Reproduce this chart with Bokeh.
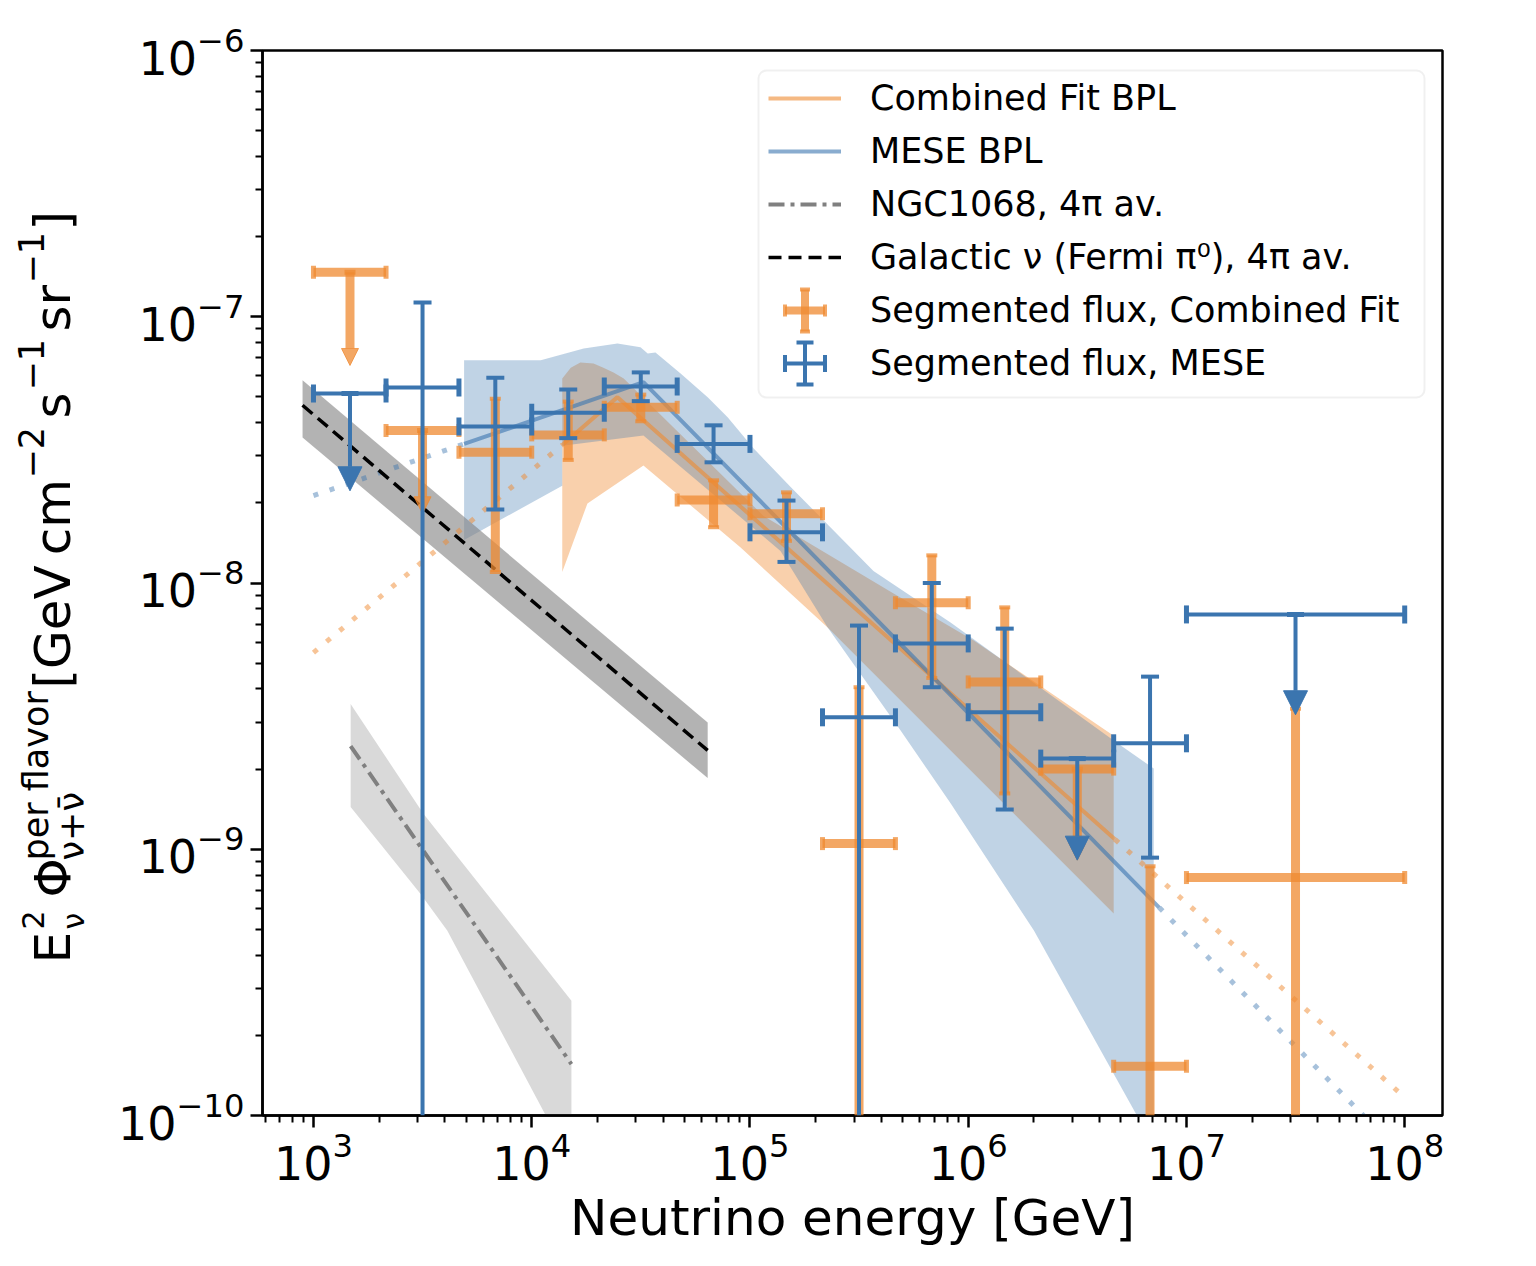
from math import pi
from bokeh.plotting import figure
from bokeh.layouts import row
from bokeh.models import (ColumnDataSource, Whisker, TeeHead, Arrow, NormalHead, BoxAnnotation,
                          Legend, LegendItem, Label, FixedTicker, Range1d)
from bokeh.embed import file_html
from bokeh.resources import INLINE

ORANGE = "#ef8a30"
BLUE = "#3b75af"
FONT = "DejaVu Sans"

# ---------------- data ----------------
x_ticks = [1e3, 1e4, 1e5, 1e6, 1e7, 1e8]
y_ticks = [1e-10, 1e-9, 1e-8, 1e-7, 1e-6]
X_RANGE = (584, 1.49e8)
Y_RANGE = (1e-10, 1e-6)

# energy segments [GeV]
bin_lo = [1e3, 2.15e3, 4.64e3, 1e4, 2.15e4, 4.64e4, 1e5, 2.15e5, 4.64e5, 1e6, 2.15e6, 4.64e6, 1e7]
bin_hi = [2.15e3, 4.64e3, 1e4, 2.15e4, 4.64e4, 1e5, 2.15e5, 4.64e5, 1e6, 2.15e6, 4.64e6, 1e7, 1e8]
bin_mid = [1.47e3, 3.16e3, 6.81e3, 1.47e4, 3.16e4, 6.81e4, 1.47e5, 3.16e5, 6.81e5, 1.47e6, 3.16e6, 6.81e6, 3.16e7]

# segmented flux, MESE  (lower 0 = reaches below the axis, None = upper limit)
mese_flux = [5.15e-8, 5.42e-8, 3.87e-8, 4.36e-8, 5.47e-8, 3.33e-8, 1.55e-8, 3.13e-9, 5.93e-9, 3.27e-9, 2.19e-9, 2.50e-9, 7.62e-9]
mese_up = [None, 1.13e-7, 5.90e-8, 5.33e-8, 6.18e-8, 3.91e-8, 2.04e-8, 6.92e-9, 1.00e-8, 6.74e-9, None, 4.45e-9, None]
mese_lo = [None, 0, 1.89e-8, 3.50e-8, 4.82e-8, 2.84e-8, 1.20e-8, 0, 4.06e-9, 1.41e-9, None, 9.3e-10, None]
mese_arrow = [2.22e-8, None, None, None, None, None, None, None, None, None, 9.1e-10, None, 3.2e-9]

# segmented flux, Combined Fit
comb_flux = [1.47e-7, 3.74e-8, 3.10e-8, 3.60e-8, 4.57e-8, 2.05e-8, 1.82e-8, 1.05e-9, 8.43e-9, 4.25e-9, 2.00e-9, 1.53e-10, 7.83e-10]
comb_up = [None, None, 4.92e-8, 4.80e-8, 5.10e-8, 2.43e-8, 2.19e-8, 4.06e-9, 1.27e-8, 8.10e-9, None, 8.63e-10, 3.37e-9]
comb_lo = [None, None, 1.10e-8, 2.90e-8, 4.05e-8, 1.62e-8, 1.44e-8, 0, 4.40e-9, 1.62e-9, None, 0, 0]
comb_arrow = [6.56e-8, 1.82e-8, None, None, None, None, None, None, None, None, 9.1e-10, None, None]

# broken power laws (vertices)
comb_bpl_E = [1.38e4, 2.47e4, 4.7e6]
comb_bpl_F = [3.30e-8, 4.99e-8, 1.09e-9]
comb_ext_lo_E = [1e3, 1.38e4]
comb_ext_lo_F = [5.48e-9, 3.30e-8]
comb_ext_hi_E = [4.7e6, 1e8]
comb_ext_hi_F = [1.09e-9, 1.17e-10]

mese_bpl_E = [4.9e3, 3.25e4, 7.5e6]
mese_bpl_F = [3.33e-8, 5.68e-8, 6.04e-10]
mese_ext_lo_E = [1e3, 4.9e3]
mese_ext_lo_F = [2.13e-8, 3.33e-8]
mese_ext_hi_E = [7.5e6, 1e8]
mese_ext_hi_F = [6.04e-10, 6.95e-11]

# uncertainty bands (upper edge left->right, lower edge left->right)
mese_band_up_E = [4.9e3, 1.10e4, 1.73e4, 2.47e4, 3.15e4, 3.4e4, 3.69e4, 4.81e4, 6.4e4, 7.9e4, 1.04e5, 1.54e5, 3.68e5, 8.3e5, 4.64e6, 7.08e6, 7.08e6]
mese_band_up_F = [6.86e-8, 6.86e-8, 7.6e-8, 7.94e-8, 7.68e-8, 7.28e-8, 7.34e-8, 6.12e-8, 4.98e-8, 4.19e-8, 3.2e-8, 2.29e-8, 1.11e-8, 7.1e-9, 2.56e-9, 2.01e-9, 8e-11]
mese_band_lo_E = [4.9e3, 1.38e4, 1.38e4, 3.25e4, 1.38e5, 2.27e5, 4.9e5, 8.3e5, 2.0e6, 6.9e6]
mese_band_lo_F = [1.45e-8, 2.32e-8, 3.28e-8, 3.58e-8, 1.32e-8, 6.8e-9, 2.79e-9, 1.49e-9, 4.95e-10, 8e-11]

comb_band_up_E = [1.38e4, 1.51e4, 1.67e4, 1.92e4, 2.13e4, 2.37e4, 2.64e4, 1.15e5, 4.55e5, 1.06e6, 4.64e6, 4.64e6]
comb_band_up_F = [5.86e-8, 6.44e-8, 6.73e-8, 6.67e-8, 6.44e-8, 6.18e-8, 5.86e-8, 1.79e-8, 9.14e-9, 6.08e-9, 2.67e-9, 5.74e-10]
comb_band_lo_E = [1.38e4, 1.8e4, 3.25e4, 9.06e4, 2.27e5]
comb_band_lo_F = [1.10e-8, 1.99e-8, 2.76e-8, 1.36e-8, 6.8e-9]

# Galactic nu (Fermi pi0), 4pi average
gal_E = [891, 6.4e4]
gal_F = [4.65e-8, 2.35e-9]
gal_band_up_F = [5.77e-8, 2.99e-9]
gal_band_lo_F = [3.52e-8, 1.85e-9]

# NGC1068, 4pi average
ngc_E = [1.48e3, 1.52e4]
ngc_F = [2.44e-9, 1.56e-10]
ngc_band_up_E = [1.48e3, 3.19e3, 1.52e4, 1.52e4]
ngc_band_up_F = [3.51e-9, 1.36e-9, 2.70e-10, 6.9e-11]
ngc_band_lo_E = [1.48e3, 3.09e3, 4.1e3, 1.16e4]
ngc_band_lo_F = [1.44e-9, 6.8e-10, 4.95e-10, 1.0e-10]

# ---------------- figure ----------------
LEFT_W = 110
FRAME_H = 1065
p = figure(x_axis_type="log", y_axis_type="log", x_range=X_RANGE, y_range=Y_RANGE,
           frame_width=1180, frame_height=FRAME_H, min_border_left=262 - LEFT_W, min_border_top=50,
           min_border_right=46, min_border_bottom=140,
           output_backend="svg", toolbar_location=None)
p.xgrid.visible = False
p.ygrid.visible = False
p.outline_line_color = "black"
p.outline_line_width = 2.5
p.background_fill_color = "white"
p.border_fill_color = "white"


def polygon(up_E, up_F, lo_E, lo_F):
    return list(up_E) + list(reversed(lo_E)), list(up_F) + list(reversed(lo_F))


# bands
bx, by = polygon(comb_band_up_E, comb_band_up_F, comb_band_lo_E, comb_band_lo_F)
p.patch(bx, by, fill_color=ORANGE, fill_alpha=0.4, line_color=None)
bx, by = polygon(mese_band_up_E, mese_band_up_F, mese_band_lo_E, mese_band_lo_F)
p.patch(bx, by, fill_color=BLUE, fill_alpha=0.32, line_color=None)
bx, by = polygon(gal_E, gal_band_up_F, gal_E, gal_band_lo_F)
p.patch(bx, by, fill_color="#808080", fill_alpha=0.6, line_color=None)
bx, by = polygon(ngc_band_up_E, ngc_band_up_F, ngc_band_lo_E, ngc_band_lo_F)
p.patch(bx, by, fill_color="#808080", fill_alpha=0.3, line_color=None)

# model lines
p.line(comb_ext_lo_E, comb_ext_lo_F, line_color=ORANGE, line_alpha=0.5, line_width=5, line_dash="5 12")
p.line(comb_ext_hi_E, comb_ext_hi_F, line_color=ORANGE, line_alpha=0.5, line_width=5, line_dash="5 12")
p.line(mese_ext_lo_E, mese_ext_lo_F, line_color=BLUE, line_alpha=0.45, line_width=5, line_dash="5 12")
p.line(mese_ext_hi_E, mese_ext_hi_F, line_color=BLUE, line_alpha=0.45, line_width=5, line_dash="5 12")
r_comb = p.line(comb_bpl_E, comb_bpl_F, line_color=ORANGE, line_alpha=0.6, line_width=4)
r_mese = p.line(mese_bpl_E, mese_bpl_F, line_color=BLUE, line_alpha=0.6, line_width=4)
r_ngc = p.line(ngc_E, ngc_F, line_color="#808080", line_width=4, line_dash="16 6 4 6")
r_gal = p.line(gal_E, gal_F, line_color="black", line_width=3.5, line_dash="13 7")


def tee(size, width, color, alpha):
    return TeeHead(size=size, line_width=width, line_color=color, line_alpha=alpha)


def draw_segments(flux, upper, lower, arrow, color, alpha, lw, cap_h, cap_v, head, top_cap):
    # horizontal bars over the energy segment
    src = ColumnDataSource(dict(base=flux, lower=bin_lo, upper=bin_hi))
    p.add_layout(Whisker(source=src, base="base", lower="lower", upper="upper", dimension="width",
                         line_color=color, line_alpha=alpha, line_width=lw, level="annotation",
                         lower_head=tee(cap_h, 5, color, alpha), upper_head=tee(cap_h, 5, color, alpha)))
    closed = dict(base=[], lower=[], upper=[])
    opened = dict(base=[], lower=[], upper=[])
    for e, up, lo in zip(bin_mid, upper, lower):
        if up is None:
            continue
        d = opened if lo == 0 else closed
        d["base"].append(e)
        d["lower"].append(lo if lo else Y_RANGE[0])
        d["upper"].append(up)
    p.add_layout(Whisker(source=ColumnDataSource(closed), base="base", lower="lower", upper="upper",
                         dimension="height", line_color=color, line_alpha=alpha, line_width=lw,
                         level="annotation", lower_head=tee(cap_v, 4, color, alpha),
                         upper_head=tee(cap_v, 4, color, alpha)))
    p.add_layout(Whisker(source=ColumnDataSource(opened), base="base", lower="lower", upper="upper",
                         dimension="height", line_color=color, line_alpha=alpha, line_width=lw,
                         level="annotation", lower_head=None, upper_head=tee(cap_v, 4, color, alpha)))
    ul = dict(x=[], y=[], tip=[])
    for e, f, a in zip(bin_mid, flux, arrow):
        if a is not None:
            ul["x"].append(e)
            ul["y"].append(f)
            ul["tip"].append(a)
    p.add_layout(Arrow(source=ColumnDataSource(ul), x_start="x", y_start="y", x_end="x", y_end="tip",
                       line_color=color, line_alpha=alpha, line_width=lw, level="annotation",
                       start=tee(top_cap, 5, color, alpha),
                       end=NormalHead(size=head, fill_color=color, fill_alpha=alpha,
                                      line_color=color, line_alpha=alpha, line_width=1)))


draw_segments(comb_flux, comb_up, comb_lo, comb_arrow, ORANGE, 0.75, 9, 13, 11, 17, 11)
draw_segments(mese_flux, mese_up, mese_lo, mese_arrow, BLUE, 1.0, 4, 18, 18, 24, 17)

# ---------------- axes ----------------
minor = [m * 10 ** k for k in range(2, 9) for m in range(2, 10)]
p.xaxis.ticker = FixedTicker(ticks=x_ticks, minor_ticks=minor)
minor_y = [m * 10.0 ** k for k in range(-11, -5) for m in range(2, 10)]
p.yaxis.ticker = FixedTicker(ticks=y_ticks, minor_ticks=minor_y)
for ax in (p.xaxis, p.yaxis):
    ax.axis_line_width = 2.5
    ax.major_tick_line_width = 2.5
    ax.minor_tick_line_width = 2
    ax.major_tick_in = 0
    ax.major_tick_out = 12
    ax.minor_tick_in = 0
    ax.minor_tick_out = 7
    ax.major_label_text_font = FONT
    ax.major_label_text_font_size = "46px"
    ax.major_label_text_color = "black"
p.xaxis.major_label_standoff = 4
p.yaxis.major_label_standoff = 6
p.xaxis.axis_label = "Neutrino energy [GeV]"
p.xaxis.axis_label_text_font = FONT
p.xaxis.axis_label_text_font_size = "50px"
p.xaxis.axis_label_text_font_style = "normal"
p.xaxis.axis_label_text_color = "black"
p.xaxis.axis_label_standoff = 6

# ---------------- legend ----------------
LEG_L, LEG_B, LEG_R, LEG_T = 496, 718, 1162, 1045   # frame screen units
p.add_layout(BoxAnnotation(left=LEG_L, right=LEG_R, bottom=LEG_B, top=LEG_T,
                           left_units="screen", right_units="screen",
                           bottom_units="screen", top_units="screen",
                           fill_color="white", fill_alpha=0.8, line_color="#cccccc",
                           line_width=2, border_radius=8, level="annotation"))
d1 = p.line([], [], line_alpha=0)
d2 = p.line([], [], line_alpha=0)
legend = Legend(items=[
    LegendItem(label="Combined Fit BPL", renderers=[r_comb]),
    LegendItem(label="MESE BPL", renderers=[r_mese]),
    LegendItem(label="NGC1068, 4\u03c0 av.", renderers=[r_ngc]),
    LegendItem(label="Galactic \u03bd (Fermi \u03c0\u2070), 4\u03c0 av.", renderers=[r_gal]),
    LegendItem(label="Segmented flux, Combined Fit", renderers=[d1]),
    LegendItem(label="Segmented flux, MESE", renderers=[d2]),
], location=(LEG_L, 722), glyph_width=73, glyph_height=40, label_height=40, label_standoff=29,
    spacing=13, padding=10, margin=0, label_text_font=FONT, label_text_font_size="35px",
    label_text_color="black", border_line_alpha=0, background_fill_alpha=0)
p.add_layout(legend)

# error-bar symbols for the last two legend rows (screen units)
for cy, color, alpha, lw, ch, cv in ((805, ORANGE, 0.75, 8, 12, 10), (752, BLUE, 1.0, 4, 17, 17)):
    hs = ColumnDataSource(dict(base=[cy], lower=[522.5], upper=[562.5]))
    vs = ColumnDataSource(dict(base=[542.5], lower=[cy - 21], upper=[cy + 21]))
    p.add_layout(Whisker(source=hs, base="base", lower="lower", upper="upper", dimension="width",
                         base_units="screen", lower_units="screen", upper_units="screen",
                         line_color=color, line_alpha=alpha, line_width=lw, level="overlay",
                         lower_head=tee(ch, 4, color, alpha), upper_head=tee(ch, 4, color, alpha)))
    p.add_layout(Whisker(source=vs, base="base", lower="lower", upper="upper", dimension="height",
                         base_units="screen", lower_units="screen", upper_units="screen",
                         line_color=color, line_alpha=alpha, line_width=lw, level="overlay",
                         lower_head=tee(cv, 4, color, alpha), upper_head=tee(cv, 4, color, alpha)))

# ---------------- y axis label (separate strip left of the plot) ----------------
# the strip's frame is aligned with the main frame (top 50 px, bottom 1115 px of the page)
lab = figure(frame_width=LEFT_W, frame_height=FRAME_H, min_border=0, x_range=Range1d(0, 1),
             y_range=Range1d(0, 1), x_axis_location=None, y_axis_location=None,
             output_backend="svg", toolbar_location=None)
lab.outline_line_color = None
lab.grid.visible = False
lab.border_fill_color = "white"
# E^2_nu Phi^{per flavor}_{nu+nubar} [GeV cm^-2 s^-1 sr^-1]; (text, px, baseline x, start y on page)
ylabel_parts = [
    ("E", 50, 72, 963), ("2", 30, 44, 929), ("\u03bd", 30, 85, 929),
    ("\u03a6", 50, 72, 897), ("per flavor", 35, 49, 860), ("\u03bd+\u03bd\u0304", 35, 85, 860),
    ("[GeV\u2009cm", 50, 72, 688), ("\u22122", 35, 44, 478), ("s", 50, 72, 418),
    ("\u22121", 35, 44, 390), ("sr", 50, 72, 331), ("\u22121", 35, 44, 283), ("]", 50, 72, 230),
]
for txt, size, base_x, top_y in ylabel_parts:
    lab.add_layout(Label(x=base_x - 0.4 * size, y=1115 - top_y, x_units="screen", y_units="screen",
                         text=txt, angle=pi / 2, text_font=FONT, text_font_size=f"{size}px",
                         text_color="black", text_align="left", text_baseline="alphabetic"))

open("out.html", "w").write(file_html(row(lab, p), INLINE))
